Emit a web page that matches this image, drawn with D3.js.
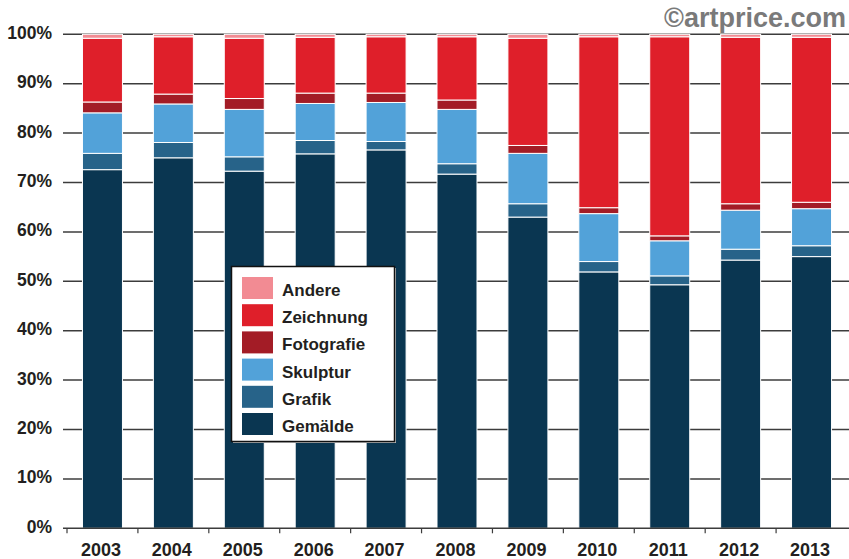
<!DOCTYPE html>
<html><head><meta charset="utf-8">
<script src="https://cdn.jsdelivr.net/npm/d3@7"></script>
<style>
html,body{margin:0;padding:0;background:#fff;}
text{font-family:"Liberation Sans",Arial,sans-serif;font-weight:bold;}
</style></head>
<body>
<svg id="chart" width="849" height="559"></svg>
<script>
const years = ["2003","2004","2005","2006","2007","2008","2009","2010","2011","2012","2013"];
const seriesNames = ["Gemälde","Grafik","Skulptur","Fotografie","Zeichnung","Andere"];
const gemaelde   = [72.6,75.0,72.3,75.8,76.6,71.7,63.0,51.9,49.3,54.3,55.0];
const grafik     = [3.3,3.1,2.9,2.7,1.7,2.1,2.7,2.1,1.8,2.2,2.2];
const skulptur   = [8.2,7.8,9.6,7.5,7.9,11.0,10.2,9.7,7.1,7.9,7.5];
const fotografie = [2.2,2.0,2.2,2.1,1.9,1.9,1.6,1.2,1.0,1.3,1.3];
const zeichnung  = [12.9,11.6,12.2,11.3,11.4,12.8,21.7,34.6,40.3,33.7,33.4];
const andere     = [0.8,0.5,0.8,0.6,0.5,0.5,0.8,0.5,0.5,0.6,0.6];
const yTicks = [0,10,20,30,40,50,60,70,80,90,100];
const colors = ["#0a3651","#276389","#52a2d9","#a31c26","#df1f2a","#f28b93"];

const seriesValues = [gemaelde,grafik,skulptur,fotografie,zeichnung,andere];
const table = years.map((y,i)=>{const o={year:y}; seriesNames.forEach((s,k)=>o[s]=seriesValues[k][i]); return o;});

const svg = d3.select("#chart");
const x = d3.scaleBand().domain(years).range([67,847]).paddingInner(0.436).paddingOuter(0.218);
const y = d3.scaleLinear().domain([0,100]).range([528.3,34.3]);
const color = d3.scaleOrdinal().domain(seriesNames).range(colors);

// gridlines
svg.append("g").selectAll("line").data(yTicks.filter(t=>t>0)).join("line")
  .attr("x1",63).attr("x2",849).attr("y1",d=>y(d)).attr("y2",d=>y(d))
  .attr("stroke","#3c3c3c").attr("stroke-width",1.5);

// y labels
svg.append("g").selectAll("text").data(yTicks).join("text")
  .attr("x",52).attr("y",d=>y(d)+4.5).attr("text-anchor","end")
  .attr("font-size",17.5).attr("fill","#231f20").text(d=>d+"%");

// bars
const stack = d3.stack().keys(seriesNames)(table);
svg.append("g").selectAll("g").data(stack).join("g").attr("fill",d=>color(d.key))
  .selectAll("rect").data(d=>d).join("rect")
  .attr("x",d=>x(d.data.year)).attr("width",x.bandwidth())
  .attr("y",d=>y(d[1])).attr("height",d=>y(d[0])-y(d[1]))
  .attr("stroke","#fff").attr("stroke-width",1);

// x axis
const xa = svg.append("g");
xa.append("line").attr("x1",63).attr("x2",849).attr("y1",y(0)).attr("y2",y(0))
  .attr("stroke","#3c3c3c").attr("stroke-width",1.5);
const step = x.step();
xa.selectAll("line.tick").data(years).join("line").attr("class","tick")
  .attr("x1",d=>x(d)+x.bandwidth()/2-step/2).attr("x2",d=>x(d)+x.bandwidth()/2-step/2)
  .attr("y1",y(0)).attr("y2",y(0)+5).attr("stroke","#3c3c3c").attr("stroke-width",1.2);
xa.selectAll("text").data(years).join("text")
  .attr("x",d=>x(d)+x.bandwidth()/2-1.5).attr("y",556).attr("text-anchor","middle")
  .attr("font-size",18).attr("fill","#231f20").text(d=>d);

// legend
const lg = svg.append("g");
lg.append("rect").attr("x",233).attr("y",268).attr("width",163).attr("height",175).attr("fill","#bbb");
lg.append("rect").attr("x",231.5).attr("y",266.5).attr("width",163).attr("height",175)
  .attr("fill","#fff").attr("stroke","#111").attr("stroke-width",1.5);
const legendOrder = seriesNames.slice().reverse();
const items = lg.selectAll("g.item").data(legendOrder).join("g").attr("class","item")
  .attr("transform",(d,i)=>`translate(242,${277+i*27.2})`);
items.append("rect").attr("width",31).attr("height",22).attr("fill",d=>color(d));
items.append("text").attr("x",40).attr("y",19).attr("font-size",17).attr("fill","#231f20").text(d=>d);

// watermark
svg.append("text").attr("x",846).attr("y",27).attr("text-anchor","end")
  .attr("font-size",27).attr("fill","#7a7a7a").text("©artprice.com");
</script>
</body></html>
